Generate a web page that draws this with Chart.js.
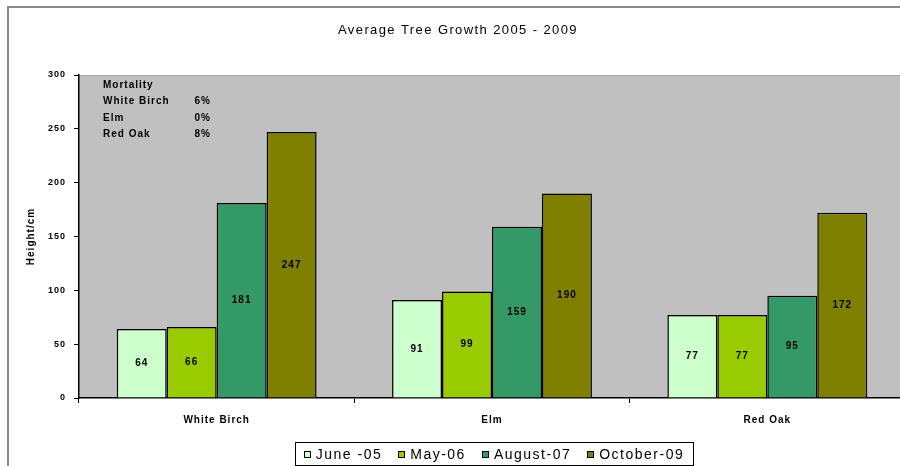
<!DOCTYPE html>
<html>
<head>
<meta charset="utf-8">
<script src="https://cdn.jsdelivr.net/npm/chart.js@4.4.1/dist/chart.umd.min.js"></script>
<style>
  html, body { margin: 0; padding: 0; background: #fff; overflow: hidden; width: 900px; height: 466px; }
  #frame { position: absolute; left: 7px; top: 6px; width: 1000px; height: 1000px;
           border-left: 2px solid #8a8a8a; border-top: 2px solid #8a8a8a; }
  #chart { position: absolute; left: 9px; top: 9px; }
</style>
</head>
<body>
<div id="frame"></div>
<canvas id="chart" width="920" height="480"></canvas>
<script>
// Average height (cm) of each species at each survey
const chartTitle = 'Average Tree Growth 2005 - 2009';
const species = ['White Birch', 'Elm', 'Red Oak'];
const surveyDates = ['June -05', 'May-06', 'August-07', 'October-09'];
const june05 = [64, 91, 77];
const may06 = [66, 99, 77];
const august07 = [181, 159, 95];
const october09 = [247, 190, 172];
const heightTicks = [0, 50, 100, 150, 200, 250, 300];
const yAxisTitle = 'Height/cm';
const mortalityHeading = 'Mortality';
const mortalityRates = ['6%', '0%', '8%'];

const barColors = ['#CCFFCC', '#99CC00', '#339966', '#808000'];
const FONT = "'Liberation Sans', Arial, sans-serif";

const seriesValues = [june05, may06, august07, october09];

// Plot background, value labels, title, mortality note and boxed legend
const decor = {
  id: 'decor',
  beforeDraw(chart) {
    const { ctx, chartArea: a } = chart;
    ctx.letterSpacing = '1px';
    ctx.save();
    ctx.fillStyle = '#C0C0C0';
    ctx.fillRect(a.left, a.top, a.right - a.left, a.bottom - a.top);
    ctx.strokeStyle = '#a8a8a8';
    ctx.lineWidth = 1;
    ctx.beginPath();
    ctx.moveTo(a.left, a.top + 0.5);
    ctx.lineTo(a.right + 20, a.top + 0.5);
    ctx.stroke();
    ctx.restore();
  },
  afterDatasetsDraw(chart) {
    const ctx = chart.ctx;
    ctx.save();
    ctx.letterSpacing = '1px';
    ctx.font = `bold 10px ${FONT}`;
    ctx.fillStyle = '#000';
    ctx.textAlign = 'center';
    ctx.textBaseline = 'middle';
    chart.data.datasets.forEach((ds, di) => {
      chart.getDatasetMeta(di).data.forEach((bar, i) => {
        ctx.fillText(String(ds.data[i]), bar.x, (bar.y + bar.base) / 2);
      });
    });
    ctx.restore();
  },
  afterDraw(chart) {
    const { ctx, chartArea: a } = chart;
    ctx.save();
    // title
    ctx.letterSpacing = '1.4px';
    ctx.font = `13px ${FONT}`;
    ctx.fillStyle = '#000';
    ctx.textAlign = 'center';
    ctx.textBaseline = 'middle';
    ctx.fillText(chartTitle, 449, 21);

    // mortality note
    ctx.letterSpacing = '1px';
    ctx.font = `bold 10px ${FONT}`;
    ctx.textAlign = 'left';
    const nx = a.left + 24, ny = a.top + 10, lh = 16.5;
    ctx.fillText(mortalityHeading, nx, ny);
    species.forEach((s, i) => {
      ctx.textAlign = 'left';
      ctx.fillText(s, nx, ny + lh * (i + 1));
      ctx.textAlign = 'right';
      ctx.fillText(mortalityRates[i], nx + 108, ny + lh * (i + 1));
    });

    // legend
    ctx.letterSpacing = '1.5px';
    ctx.font = `14px ${FONT}`;
    ctx.textAlign = 'left';
    const items = chart.data.datasets.map(d => ({
      label: d.label, color: d.backgroundColor, w: ctx.measureText(d.label).width
    }));
    const mk = 7, gapM = 5, gapI = 16, pad = 9;
    const total = items.reduce((s, it) => s + mk + gapM + it.w, 0) + gapI * (items.length - 1);
    const cx = 485;
    let x = cx - total / 2;
    const boxL = Math.round(x - pad) + 0.5, boxR = Math.round(x + total + pad) + 0.5;
    const boxT = 433.5, boxB = 456.5, my = 445;
    ctx.strokeStyle = '#000';
    ctx.lineWidth = 1;
    ctx.strokeRect(boxL, boxT, boxR - boxL, boxB - boxT);
    items.forEach(it => {
      ctx.fillStyle = it.color;
      ctx.fillRect(Math.round(x), Math.round(my - mk / 2), mk, mk);
      ctx.strokeRect(Math.round(x) + 0.5, Math.round(my - mk / 2) + 0.5, mk - 1, mk - 1);
      ctx.fillStyle = '#000';
      ctx.fillText(it.label, x + mk + gapM, my + 1);
      x += mk + gapM + it.w + gapI;
    });
    ctx.restore();
  }
};

new Chart(document.getElementById('chart'), {
  type: 'bar',
  data: {
    labels: species,
    datasets: surveyDates.map((d, i) => ({
      label: d,
      data: seriesValues[i],
      backgroundColor: barColors[i],
      borderColor: '#000',
      borderWidth: 1.5,
      borderSkipped: 'start',
      barPercentage: 1,
      categoryPercentage: 0.726
    }))
  },
  options: {
    responsive: false,
    devicePixelRatio: 1,
    animation: false,
    layout: { padding: { top: 66, left: 0, right: 24, bottom: 61 } },
    plugins: {
      legend: { display: false },
      title: { display: false },
      tooltip: { enabled: false }
    },
    scales: {
      x: {
        afterFit(scale) { scale.height = 30; },
        border: { display: true, color: '#000', width: 1.5 },
        grid: { offset: true, drawOnChartArea: false, drawTicks: true, tickLength: 5, color: '#000', lineWidth: 1 },
        ticks: { color: '#000', font: { family: FONT, size: 10, weight: 'bold' }, padding: 11, maxRotation: 0 }
      },
      y: {
        min: 0, max: 300,
        afterFit(scale) { scale.width = 70; },
        afterBuildTicks(scale) { scale.ticks = heightTicks.map(v => ({ value: v })); },
        border: { display: true, color: '#000', width: 1.5 },
        grid: { drawOnChartArea: false, drawTicks: true, tickLength: 5, color: '#000', lineWidth: 1 },
        ticks: { color: '#000', font: { family: FONT, size: 9, weight: 'bold' }, padding: 8 },
        title: {
          display: true, text: yAxisTitle, color: '#000',
          font: { family: FONT, size: 10, weight: 'bold' },
          padding: { top: 16, bottom: 0 }
        }
      }
    }
  },
  plugins: [decor]
});
</script>
</body>
</html>
